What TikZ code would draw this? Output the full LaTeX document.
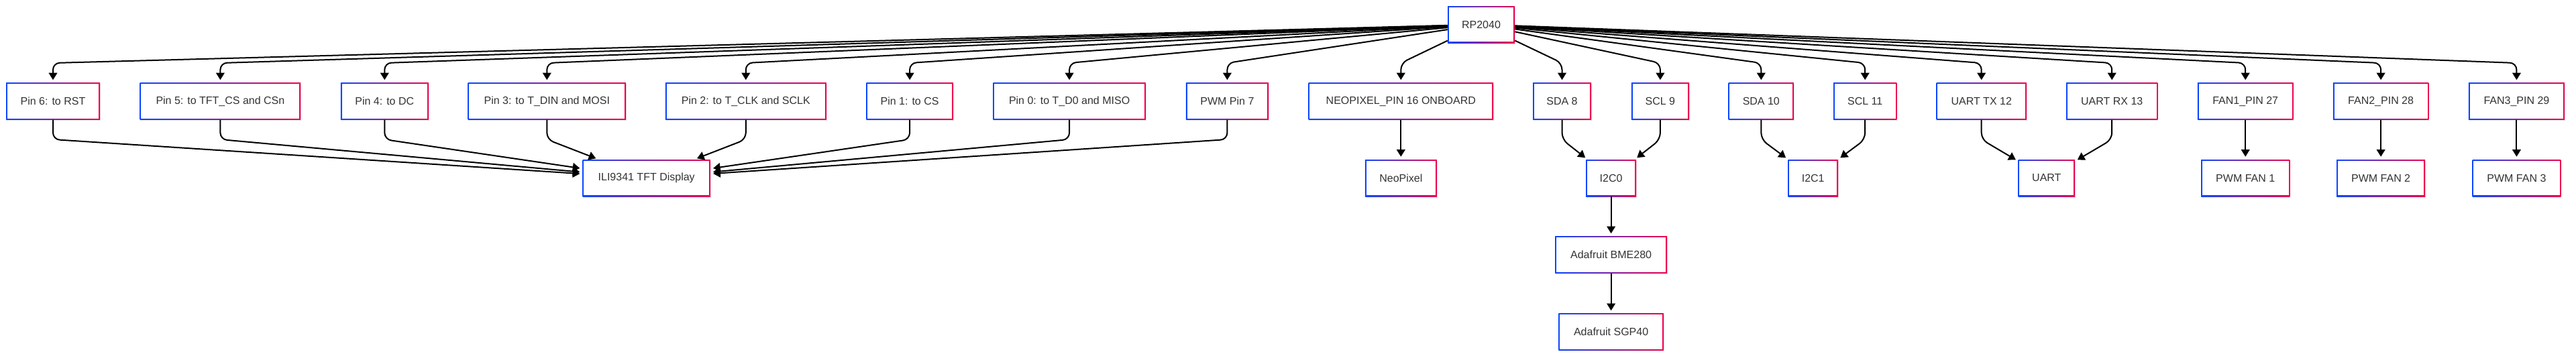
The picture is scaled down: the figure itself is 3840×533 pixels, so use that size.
\documentclass[tikz,border=0pt]{standalone}
\usepackage{fontspec}
\setmainfont{Liberation Sans}
\usetikzlibrary{arrows.meta,shadows}
\definecolor{bl}{HTML}{0A45FF}
\definecolor{rd}{HTML}{F0004C}
\definecolor{txt}{HTML}{333333}
\tikzset{
  box/.style={rectangle, minimum width=#1*0.75pt, minimum height=41.25pt, inner sep=0pt,
    text=txt, font=\fontsize{12pt}{14pt}\selectfont, fill=white,
    drop shadow={shadow xshift=0.6pt, shadow yshift=-1.2pt, opacity=0.10, fill=black},
    path picture={
      \shade[left color=bl, right color=rd] (path picture bounding box.south west) rectangle (path picture bounding box.north east);
      \fill[white] ([shift={(1.3pt,1.3pt)}]path picture bounding box.south west) rectangle ([shift={(-1.3pt,-1.3pt)}]path picture bounding box.north east);
    }},
  arr/.style={draw=black, line width=1.5pt, -{Triangle[length=8pt,width=9.5pt]}, shorten >=3pt, rounded corners=7.5pt},
}
\begin{document}
\begin{tikzpicture}[x=0.75pt,y=-0.75pt]
\fill[white] (0,0) rectangle (3840,533);
\useasboundingbox (0,0) rectangle (3840,533);
% row 0
\node[box=100] (rp) at (2208,36.5) {RP2040};
% row 1
\node[box=140]   (p6)   at (79,151)     {Pin 6: to RST};
\node[box=239.6] (p5)   at (328.4,151)  {Pin 5: to TFT\_CS and CSn};
\node[box=131]   (p4)   at (573.3,151)  {Pin 4: to DC};
\node[box=235.4] (p3)   at (815.3,151)  {Pin 3: to T\_DIN and MOSI};
\node[box=240]   (p2)   at (1111.8,151) {Pin 2: to T\_CLK and SCLK};
\node[box=129.4] (p1)   at (1356.1,151) {Pin 1: to CS};
\node[box=227.4] (p0)   at (1594.1,151) {Pin 0: to T\_D0 and MISO};
\node[box=123.2] (pw7)  at (1829.4,151) {PWM Pin 7};
\node[box=275.4] (neo)  at (2088.3,151) {NEOPIXEL\_PIN 16 ONBOARD};
\node[box=87]    (sda8) at (2328.5,151) {SDA 8};
\node[box=86.2]  (scl9) at (2474.9,151) {SCL 9};
\node[box=97.2]  (sda10) at (2625.3,151) {SDA 10};
\node[box=94.3]  (scl11) at (2780.2,151) {SCL 11};
\node[box=134.3] (tx)   at (2953.7,151) {UART TX 12};
\node[box=136.3] (rx)   at (3148.2,151) {UART RX 13};
\node[box=142.9] (f1)   at (3347.2,151) {FAN1\_PIN 27};
\node[box=142.4] (f2)   at (3549.1,151) {FAN2\_PIN 28};
\node[box=142.9] (f3)   at (3751.4,151) {FAN3\_PIN 29};
% row 2
\node[box=190.2] (ili)  at (963.7,265.5)  {ILI9341 TFT Display};
\node[box=106.9] (npx)  at (2088.3,265.5) {NeoPixel};
\node[box=75]    (i2c0) at (2401.6,265.5) {I2C0};
\node[box=74.7]  (i2c1) at (2702.7,265.5) {I2C1};
\node[box=84.4]  (uart) at (3050.8,265.5) {UART};
\node[box=132.2] (pf1)  at (3347.2,265.5) {PWM FAN 1};
\node[box=132.1] (pf2)  at (3549.1,265.5) {PWM FAN 2};
\node[box=131.7] (pf3)  at (3751.4,265.5) {PWM FAN 3};
% rows 3-4
\node[box=167]   (bme)  at (2401.6,380) {Adafruit BME280};
\node[box=156.3] (sgp)  at (2401.6,495) {Adafruit SGP40};
% edges from RP2040
\foreach \n/\x in {p6/79,p5/328.4,p4/573.3,p3/815.3,p2/1111.8,p1/1356.1,p0/1594.1,pw7/1829.4,neo/2088.3,sda8/2328.5,scl9/2474.9,sda10/2625.3,scl11/2780.2,tx/2953.7,rx/3148.2,f1/3347.2,f2/3549.1,f3/3751.4}
  \draw[arr] (rp) -- (\x,94) -- (\n);
% edges to display
\foreach \n/\x in {p6/79,p5/328.4,p4/573.3,p3/815.3,p2/1111.8,p1/1356.1,p0/1594.1,pw7/1829.4}
  \draw[arr] (\n) -- (\x,208) -- (ili);
% bus edges
\draw[arr] (sda8) -- (2328.5,208) -- (i2c0);
\draw[arr] (scl9) -- (2474.9,208) -- (i2c0);
\draw[arr] (sda10) -- (2625.3,208) -- (i2c1);
\draw[arr] (scl11) -- (2780.2,208) -- (i2c1);
\draw[arr] (tx) -- (2953.7,208) -- (uart);
\draw[arr] (rx) -- (3148.2,208) -- (uart);
% straight edges
\draw[arr] (neo) -- (npx);
\draw[arr] (i2c0) -- (bme);
\draw[arr] (bme) -- (sgp);
\draw[arr] (f1) -- (pf1);
\draw[arr] (f2) -- (pf2);
\draw[arr] (f3) -- (pf3);
\end{tikzpicture}
\end{document}
